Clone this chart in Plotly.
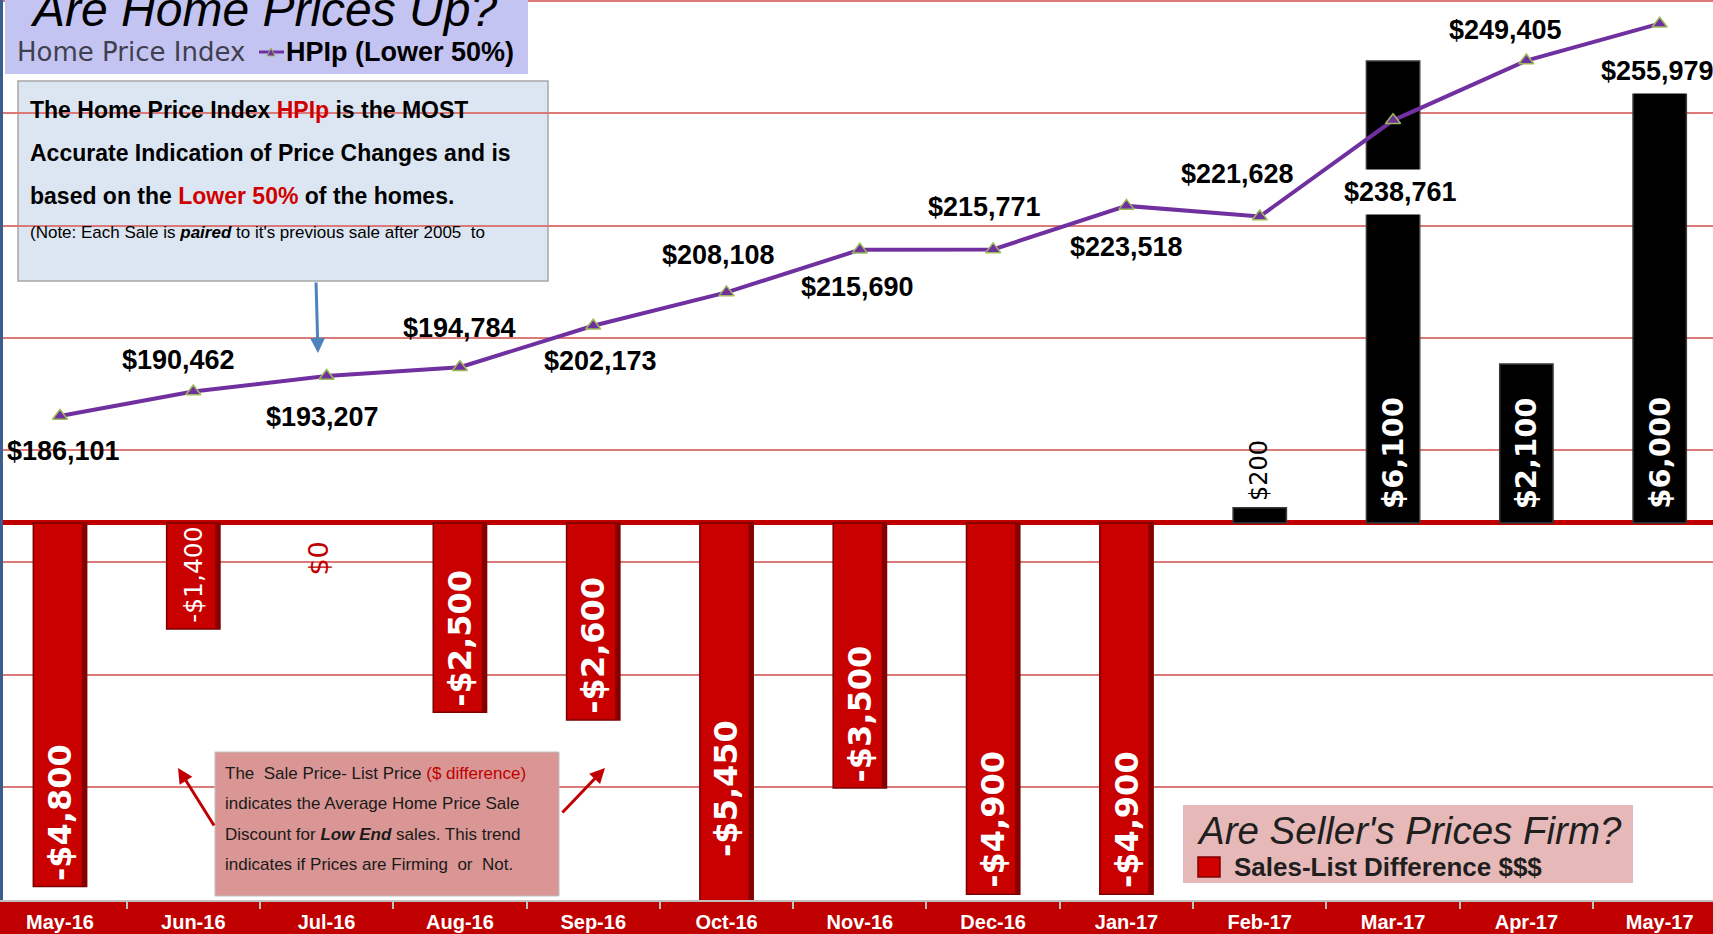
import plotly.graph_objects as go

# ---- data -------------------------------------------------------------
months = ["May-16", "Jun-16", "Jul-16", "Aug-16", "Sep-16", "Oct-16", "Nov-16",
          "Dec-16", "Jan-17", "Feb-17", "Mar-17", "Apr-17", "May-17"]
hpi_values = [186101, 190462, 193207, 194784, 202173, 208108, 215690,
              215771, 223518, 221628, 238761, 249405, 255979]
sale_list_diff = [-4800, -1400, 0, -2500, -2600, -5450, -3500,
                  -4900, -4900, 200, 6100, 2100, 6000]

# ---- geometry / styling -----------------------------------------------
W, H = 1713, 934
PLOT_H = 900                      # plot area height; the red band below holds month labels
BAR_RANGE = [-4977, 6904]
HPI_RANGE = [99875, 260196]
X_RANGE = [-0.45, 12.40]
BAR_PX_PER_UNIT = PLOT_H / (BAR_RANGE[1] - BAR_RANGE[0])
BAR_W = 0.4
SHADE_W = 0.035                   # dark bevel strip on the right side of the red bars

SANS = "Liberation Sans, Arial, sans-serif"
VERD = "DejaVu Sans, Verdana, sans-serif"
RED = "#C00000"
PURPLE = "#7030A0"

# pixel offsets of each HPI value label from its point (dx right, dy down)
hpi_label_offsets = [(4, 35), (-15, -31), (-4, 41), (0, -39), (7, 35), (-8, -37),
                     (-2, 37), (-9, -42), (0, 41), (-22, -43), (7, 72), (-21, -31), (-2, 47)]
hpi_label_boxed = {10, 12}        # labels that sit on top of a bar get a white backing


def px(x):
    return x / W


def py(y):
    return (PLOT_H - y) / PLOT_H


def money(v):
    return ("-$" if v < 0 else "$") + f"{abs(v):,}"


fig = go.Figure()

bar_colors = ["#C80000" if v < 0 else "#000000" for v in sale_list_diff]
bar_edges = ["#7A0000" if v < 0 else "#3A3A3A" for v in sale_list_diff]
bar_edge_w = [0 if v == 0 else 1.5 for v in sale_list_diff]
fig.add_trace(go.Bar(
    x=months, y=sale_list_diff, yaxis="y", width=BAR_W, offset=-BAR_W / 2,
    marker=dict(color=bar_colors, line=dict(color=bar_edges, width=bar_edge_w)),
    hoverinfo="skip",
))
# bevel shading along the right edge of the negative bars
fig.add_trace(go.Bar(
    x=months, y=[v if v < 0 else 0 for v in sale_list_diff], yaxis="y",
    width=SHADE_W, offset=BAR_W / 2 - SHADE_W,
    marker=dict(color="#850000", line=dict(width=0)),
    hoverinfo="skip",
))

fig.add_trace(go.Scatter(
    x=months, y=hpi_values, yaxis="y2", mode="lines+markers",
    line=dict(color=PURPLE, width=4),
    marker=dict(symbol="triangle-up", size=13, color=PURPLE,
                line=dict(color="#9BBB59", width=1.5)),
    hoverinfo="skip",
))

annotations = []

# HPI value labels
for i, (m, v) in enumerate(zip(months, hpi_values)):
    dx, dy = hpi_label_offsets[i]
    boxed = i in hpi_label_boxed
    annotations.append(dict(
        x=m, y=v, xref="x", yref="y2", text=money(v), showarrow=False,
        xshift=dx, yshift=-dy, xanchor="center", yanchor="middle",
        font=dict(family=SANS, size=27, color="black", weight="bold"),
        bgcolor="white" if boxed else None, borderpad=7 if boxed else 1,
    ))

# Sales-list difference labels (vertical)
for m, v in zip(months, sale_list_diff):
    if v < 0:
        visible_end = v if v >= BAR_RANGE[0] else BAR_RANGE[0] + 490
        bar_len = -visible_end * BAR_PX_PER_UNIT
        size = int(min(32, (bar_len - 8) / 3.9))
        annotations.append(dict(
            x=m, y=visible_end, xref="x", yref="y", text=money(v),
            textangle=-90, showarrow=False, xanchor="center", yanchor="bottom", yshift=4,
            font=dict(family=VERD, size=size, color="white",
                      weight="bold" if size >= 30 else "normal")))
    elif v == 0:
        annotations.append(dict(
            x=m, y=0, xref="x", yref="y", text=money(v), textangle=-90,
            showarrow=False, xanchor="center", yanchor="top", yshift=-17, xshift=-8,
            font=dict(family=VERD, size=27, color=RED)))
    elif v < 1000:
        annotations.append(dict(
            x=m, y=v, xref="x", yref="y", text=money(v), textangle=-90,
            showarrow=False, xanchor="center", yanchor="bottom", yshift=5,
            font=dict(family=VERD, size=24, color="black")))
    else:
        annotations.append(dict(
            x=m, y=0, xref="x", yref="y", text=money(v), textangle=-90,
            showarrow=False, xanchor="center", yanchor="bottom", yshift=12,
            font=dict(family=VERD, size=29, color="white", weight="bold")))

shapes = []

# title panel
shapes.append(dict(type="rect", xref="paper", yref="paper", layer="above",
                   x0=px(5), x1=px(528), y0=py(74), y1=py(-10),
                   fillcolor="#C4C4F2", line=dict(width=0)))
annotations.append(dict(xref="paper", yref="paper", x=px(28), y=py(10),
                        xanchor="left", yanchor="middle", showarrow=False,
                        text="<i>Are Home Prices Up?</i>",
                        font=dict(family=SANS, size=48, color="black")))
annotations.append(dict(xref="paper", yref="paper", x=px(15), y=py(52),
                        xanchor="left", yanchor="middle", showarrow=False,
                        text="Home Price Index",
                        font=dict(family=VERD, size=26, color="#3F3F4F")))
shapes.append(dict(type="line", xref="paper", yref="paper", layer="above",
                   x0=px(259), x1=px(284), y0=py(52), y1=py(52),
                   line=dict(color=PURPLE, width=3)))
shapes.append(dict(type="path", xref="paper", yref="paper", layer="above",
                   path=f"M {px(267)},{py(56)} L {px(275)},{py(56)} L {px(271)},{py(48)} Z",
                   fillcolor=PURPLE, line=dict(color="#9BBB59", width=1)))
annotations.append(dict(xref="paper", yref="paper", x=px(284), y=py(52),
                        xanchor="left", yanchor="middle", showarrow=False,
                        text="HPIp (Lower 50%)",
                        font=dict(family=SANS, size=27, color="black", weight="bold")))

# explanatory note (upper left)
shapes.append(dict(type="rect", xref="paper", yref="paper", layer="below",
                   x0=px(18), x1=px(548), y0=py(281), y1=py(81),
                   fillcolor="#DCE6F2", line=dict(color="#A6A6A6", width=1.5)))
note_lines = [
    ("The Home Price Index <span style='color:#D00000'>HPIp</span> is the MOST", 110, 23, "bold"),
    ("Accurate Indication of Price Changes and is", 153, 23, "bold"),
    ("based on the <span style='color:#D00000'>Lower 50%</span> of the homes.", 196, 23, "bold"),
    ("(Note: Each Sale is <b><i>paired</i></b> to it's previous sale after 2005  to", 232, 17, "normal"),
]
for txt, yy, sz, wt in note_lines:
    annotations.append(dict(xref="paper", yref="paper", x=px(28), y=py(yy),
                            xanchor="left", yanchor="middle", showarrow=False, text=txt,
                            font=dict(family=SANS, size=sz, color="black", weight=wt)))
annotations.append(dict(xref="paper", yref="paper", x=px(318), y=py(353),
                        ax=-2, ay=-72, axref="pixel", ayref="pixel", text="",
                        showarrow=True, arrowhead=2, arrowsize=1, arrowwidth=3,
                        arrowcolor="#4F81BD"))

# explanatory note (lower left)
shapes.append(dict(type="rect", xref="paper", yref="paper", layer="above",
                   x0=px(215), x1=px(559), y0=py(896), y1=py(752),
                   fillcolor="#D99694", line=dict(color="#BFBFBF", width=1)))
pink_lines = [
    ("The  Sale Price- List Price <span style='color:#C00000'>($ difference)</span>", 773),
    ("indicates the Average Home Price Sale", 803),
    ("Discount for <b><i>Low End</i></b> sales. This trend", 834),
    ("indicates if Prices are Firming  or  Not.", 864),
]
for txt, yy in pink_lines:
    annotations.append(dict(xref="paper", yref="paper", x=px(223), y=py(yy),
                            xanchor="left", yanchor="middle", showarrow=False, text=txt,
                            font=dict(family=SANS, size=17, color="#1A1A1A")))
annotations.append(dict(xref="paper", yref="paper", x=px(178), y=py(768),
                        ax=37, ay=59, axref="pixel", ayref="pixel", text="",
                        showarrow=True, arrowhead=2, arrowsize=1, arrowwidth=3,
                        arrowcolor=RED))
annotations.append(dict(xref="paper", yref="paper", x=px(605), y=py(768),
                        ax=-44, ay=46, axref="pixel", ayref="pixel", text="",
                        showarrow=True, arrowhead=2, arrowsize=1, arrowwidth=3,
                        arrowcolor=RED))

# bar series key (lower right)
shapes.append(dict(type="rect", xref="paper", yref="paper", layer="above",
                   x0=px(1183), x1=px(1633), y0=py(883), y1=py(805),
                   fillcolor="#E6B9B8", line=dict(width=0)))
annotations.append(dict(xref="paper", yref="paper", x=px(1195), y=py(830),
                        xanchor="left", yanchor="middle", showarrow=False,
                        text="<i>Are Seller's Prices Firm?</i>",
                        font=dict(family=SANS, size=38.5, color="#1F1F1F")))
shapes.append(dict(type="rect", xref="paper", yref="paper", layer="above",
                   x0=px(1198), x1=px(1220), y0=py(877), y1=py(857),
                   fillcolor="#D00000", line=dict(color="#800000", width=1.5)))
annotations.append(dict(xref="paper", yref="paper", x=px(1232), y=py(867),
                        xanchor="left", yanchor="middle", showarrow=False,
                        text="Sales-List Difference $$$",
                        font=dict(family=SANS, size=26, color="#1F1F1F", weight="bold")))

# left frame edge
shapes.append(dict(type="line", xref="paper", yref="paper", layer="above",
                   x0=px(1.5), x1=px(1.5), y0=0, y1=1,
                   line=dict(color="#3A5F8F", width=3)))

fig.update_layout(
    width=W, height=H,
    margin=dict(l=0, r=0, t=0, b=H - PLOT_H),
    paper_bgcolor=RED, plot_bgcolor="white",
    showlegend=False, barmode="overlay",
    xaxis=dict(type="category", range=X_RANGE, tickson="boundaries",
               ticks="outside", ticklen=7, tickwidth=2, tickcolor="#BFBFBF",
               showline=True, linecolor="#BFBFBF", linewidth=2, showgrid=False,
               ticklabelstandoff=3,
               tickfont=dict(family=SANS, size=20, color="white", weight="bold")),
    yaxis=dict(range=BAR_RANGE, showgrid=False, showticklabels=False, ticks="",
               zeroline=True, zerolinecolor=RED, zerolinewidth=5),
    yaxis2=dict(range=HPI_RANGE, overlaying="y", side="right", dtick=20000,
                tick0=100000, showgrid=True, gridcolor="#DC7A7A", gridwidth=1.5,
                showticklabels=False, ticks="", zeroline=False),
    shapes=shapes,
    annotations=annotations,
)

fig.write_html("out.html")
